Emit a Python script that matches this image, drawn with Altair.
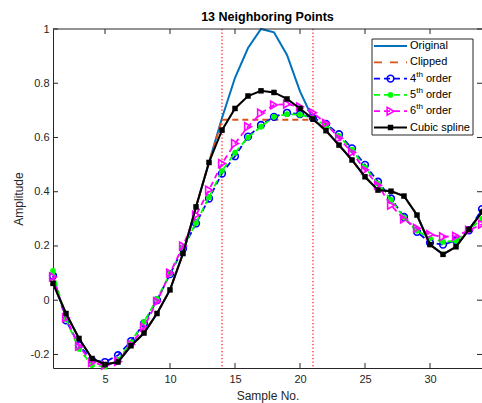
import altair as alt
import pandas as pd

# Sample indices and signal values
samples = list(range(1, 35))

original = [0.062, -0.049, -0.141, -0.215, -0.237, -0.228, -0.168, -0.121, -0.049, 0.038,
            0.172, 0.344, 0.508, 0.672, 0.82, 0.93, 1.0, 0.988, 0.904, 0.77,
            0.668, 0.625, 0.572, 0.517, 0.455, 0.406, 0.402, 0.384, 0.314, 0.205,
            0.169, 0.197, 0.261, 0.325]

clipped = [0.062, -0.049, -0.141, -0.215, -0.237, -0.228, -0.168, -0.121, -0.049, 0.038,
           0.172, 0.344, 0.508, 0.665, 0.665, 0.665, 0.665, 0.665, 0.665, 0.665,
           0.665, 0.625, 0.572, 0.517, 0.455, 0.406, 0.402, 0.384, 0.314, 0.205,
           0.169, 0.197, 0.261, 0.325]

order4 = [0.09, -0.074, -0.166, -0.221, -0.228, -0.203, -0.151, -0.086, 0.0, 0.096,
          0.19, 0.283, 0.375, 0.467, 0.531, 0.603, 0.646, 0.676, 0.691, 0.686,
          0.672, 0.65, 0.612, 0.56, 0.499, 0.437, 0.375, 0.307, 0.252, 0.212,
          0.205, 0.22, 0.258, 0.336]

order5 = [0.108, -0.07, -0.18, -0.24, -0.245, -0.22, -0.155, -0.08, 0.005, 0.098,
          0.195, 0.285, 0.38, 0.477, 0.544, 0.6, 0.64, 0.676, 0.686, 0.684,
          0.67, 0.645, 0.605, 0.555, 0.49, 0.43, 0.37, 0.305, 0.256, 0.228,
          0.215, 0.219, 0.26, 0.30]

order6 = [0.086, -0.065, -0.17, -0.23, -0.24, -0.226, -0.163, -0.10, -0.005, 0.10,
          0.2, 0.314, 0.406, 0.504, 0.578, 0.64, 0.69, 0.72, 0.723, 0.713,
          0.691, 0.652, 0.597, 0.545, 0.48, 0.424, 0.35, 0.299, 0.265, 0.242,
          0.234, 0.236, 0.258, 0.28]

spline = [0.062, -0.049, -0.141, -0.215, -0.237, -0.228, -0.168, -0.121, -0.049, 0.038,
          0.172, 0.344, 0.508, 0.627, 0.707, 0.753, 0.772, 0.766, 0.742, 0.707,
          0.668, 0.625, 0.572, 0.517, 0.455, 0.406, 0.402, 0.384, 0.314, 0.205,
          0.169, 0.197, 0.261, 0.325]

clip_bounds = [14, 21]
x_ticks = [5, 10, 15, 20, 25, 30]
y_ticks = [-0.2, 0, 0.2, 0.4, 0.6, 0.8, 1]

legend_labels = ["Original", "Clipped", "4", "5", "6", "Cubic spline"]

W, H = 429, 339
FONT = "Liberation Sans"
AX = "#262626"

xs = alt.Scale(domain=[1, 34], nice=False, zero=False)
ys = alt.Scale(domain=[-0.25, 1], nice=False, zero=False)

X = alt.X("n:Q", scale=xs,
          axis=alt.Axis(values=x_ticks, title="Sample No.", ticks=False, grid=False,
                        labelPadding=5, titlePadding=6, labelFontSize=11,
                        titleFontSize=12, titleFontWeight="normal"))
Y = alt.Y("v:Q", scale=ys,
          axis=alt.Axis(values=y_ticks, title="Amplitude", ticks=False, grid=False,
                        labelPadding=4, titlePadding=5, labelFontSize=11,
                        titleFontSize=12, titleFontWeight="normal",
                        labelExpr="datum.value < 0 ? '-' + format(-datum.value, '~g') : format(datum.value, '~g')"))


def frame(vals):
    return pd.DataFrame({"n": samples, "v": vals})


def line(vals, color, width=1.8, dash=None):
    kw = dict(color=color, strokeWidth=width)
    if dash:
        kw["strokeDash"] = dash
    return alt.Chart(frame(vals)).mark_line(**kw).encode(x=X, y=Y)


def points(vals, **kw):
    return alt.Chart(frame(vals)).mark_point(opacity=1, **kw).encode(x=X, y=Y)


DASH = [6, 4]

layers = [
    # clipping boundaries
    alt.Chart(pd.DataFrame({"n": clip_bounds})).mark_rule(
        stroke="#FF2020", strokeWidth=1.3, strokeDash=[1.3, 2.2], opacity=1).encode(
        x=X, y=alt.value(0), y2=alt.value(H)),
    line(original, "#0072BD", 2),
    line(clipped, "#D95319", 2, DASH),
    line(order4, "#0000FF", 1.8, DASH),
    points(order4, shape="circle", filled=False, color="#0000FF", size=45, strokeWidth=1.6),
    line(order5, "#00FF00", 1.8, DASH),
    points(order5, shape="circle", filled=True, color="#00FF00", size=32),
    line(order6, "#FF00FF", 1.8, DASH),
    points(order6, shape="triangle-right", filled=False, color="#FF00FF", size=60, strokeWidth=1.6),
    line(spline, "#000000", 2),
    points(spline, shape="square", filled=True, color="#000000", size=30),
]

# inward tick marks on all four sides and the top border
xt = alt.Chart(pd.DataFrame({"n": x_ticks}))
yt = alt.Chart(pd.DataFrame({"v": y_ticks}))
one = alt.Chart(pd.DataFrame({"k": [0]}))
layers += [
    xt.mark_rule(color=AX, strokeWidth=1).encode(x=X, y=alt.value(H), y2=alt.value(H - 5)),
    xt.mark_rule(color=AX, strokeWidth=1).encode(x=X, y=alt.value(0), y2=alt.value(5)),
    yt.mark_rule(color=AX, strokeWidth=1).encode(y=Y, x=alt.value(0), x2=alt.value(5)),
    yt.mark_rule(color=AX, strokeWidth=1).encode(y=Y, x=alt.value(W), x2=alt.value(W - 5)),
    one.mark_rule(color=AX, strokeWidth=1).encode(x=alt.value(0), x2=alt.value(W), y=alt.value(0)),
]

# legend box
LX0, LX1, LY0, LY1 = 319, 420, 10, 106
layers.append(one.mark_rect(fill="white", stroke=AX, strokeWidth=1).encode(
    x=alt.value(LX0), x2=alt.value(LX1), y=alt.value(LY0), y2=alt.value(LY1)))

row_y = [LY0 + 7 + i * 16.3 for i in range(6)]
SX0, SX1, SXM, TX = 321, 354, 337.5, 357
styles = [
    dict(color="#0072BD", dash=None, marker=None),
    dict(color="#D95319", dash=[8, 8], marker=None),
    dict(color="#0000FF", dash=DASH, marker=dict(shape="circle", filled=False, size=45, strokeWidth=1.6)),
    dict(color="#00FF00", dash=DASH, marker=dict(shape="circle", filled=True, size=32)),
    dict(color="#FF00FF", dash=DASH, marker=dict(shape="triangle-right", filled=False, size=60, strokeWidth=1.6)),
    dict(color="#000000", dash=None, marker=dict(shape="square", filled=True, size=30)),
]
for i, (lab, st) in enumerate(zip(legend_labels, styles)):
    ry = row_y[i]
    rkw = dict(color=st["color"], strokeWidth=2 if st["dash"] is None else 1.8)
    if st["dash"]:
        rkw["strokeDash"] = st["dash"]
    layers.append(one.mark_rule(**rkw).encode(
        x=alt.value(SX0), x2=alt.value(SX1), y=alt.value(ry)))
    if st["marker"]:
        layers.append(one.mark_point(color=st["color"], opacity=1, **st["marker"]).encode(
            x=alt.value(SXM), y=alt.value(ry)))
    tkw = dict(font=FONT, fontSize=11, color="black", align="left", baseline="middle")
    if lab.isdigit():
        layers.append(one.mark_text(text=lab, **tkw).encode(x=alt.value(TX), y=alt.value(ry)))
        layers.append(one.mark_text(text="th", font=FONT, fontSize=8, color="black",
                                    align="left", baseline="middle").encode(
            x=alt.value(TX + 6.3), y=alt.value(ry - 4)))
        layers.append(one.mark_text(text="order", **tkw).encode(x=alt.value(TX + 16), y=alt.value(ry)))
    else:
        layers.append(one.mark_text(text=lab, **tkw).encode(x=alt.value(TX), y=alt.value(ry)))

chart = alt.layer(*layers).properties(
    width=W, height=H,
    title=alt.TitleParams("13 Neighboring Points", fontSize=12.5, fontWeight="bold",
                          font=FONT, color="black", offset=0, anchor="middle"),
    autosize=alt.AutoSizeParams(type="none"),
    padding={"left": 53, "top": 29, "right": 0, "bottom": 35},
).configure_view(strokeWidth=0).configure_axis(
    domainColor=AX, domainWidth=1, labelColor=AX, titleColor=AX,
    labelFont=FONT, titleFont=FONT,
)

chart.save("out.html", embed_options={"renderer": "svg", "actions": False})
